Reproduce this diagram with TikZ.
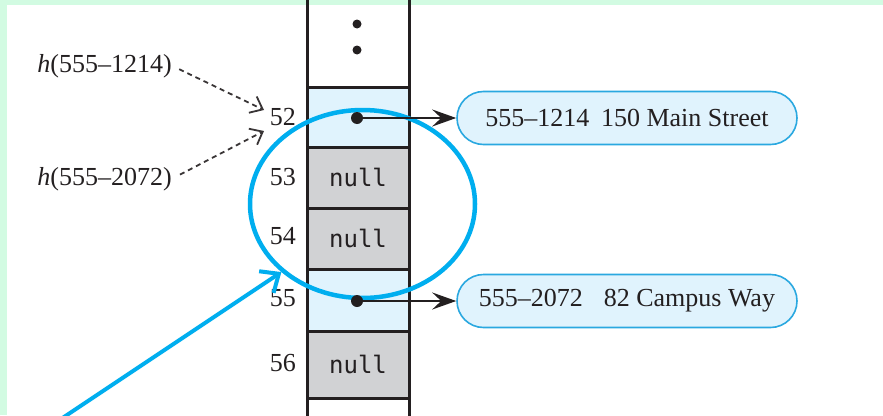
\documentclass[tikz,border=0pt]{standalone}
\usepackage{fontspec}
\setmainfont{Liberation Serif}
\setmonofont{DejaVu Sans Mono}
\usetikzlibrary{arrows.meta,shapes.misc,shapes.geometric}
\definecolor{mint}{HTML}{D2FBE2}
\definecolor{cellblue}{HTML}{E0F3FD}
\definecolor{cellgray}{HTML}{D1D2D4}
\definecolor{recblue}{HTML}{2AA8E0}
\definecolor{hilite}{HTML}{00AEEF}
\definecolor{ink}{HTML}{231F20}
\begin{document}
\begin{tikzpicture}[x=1pt,y=-1pt,
  txt/.style={font=\fontsize{26}{30}\selectfont, inner sep=0pt, text=ink},
  cell/.style={draw=ink, line width=3pt, minimum width=102pt, inner sep=0pt,
    outer sep=0pt, text=ink, font=\ttfamily\fontsize{24}{28}\selectfont},
  rec/.style={rounded rectangle, draw=recblue, line width=1.6pt, fill=cellblue,
    minimum width=340pt, minimum height=53pt, inner sep=0pt, text=ink,
    font=\fontsize{26}{30}\selectfont},
  ptr/.style={draw=ink, line width=2.2pt, -{Stealth[length=24pt,width=17pt,inset=9pt]}},
  hashptr/.style={draw=ink!90, line width=1.8pt, dash pattern=on 5pt off 4pt,
    -{Straight Barb[length=11pt,width=18pt]}},
  ring/.style={ellipse, draw=hilite, line width=4.5pt, minimum width=225pt,
    minimum height=188pt, inner sep=0pt},
  callout/.style={draw=hilite, line width=4pt,
    -{Straight Barb[length=15pt,width=26pt]}},
]
\useasboundingbox (0,0) rectangle (883,415);
% page background with a mint frame on top and left
\fill[mint] (0,0) rectangle (883,415);
\fill[white] (7,5) rectangle (883,415);

% hash table column
\node[cell, fill=cellblue, minimum height=60pt] (c52) at (358,117) {};
\node[cell, fill=cellgray, minimum height=61pt] (c53) at (358,177.5) {null};
\node[cell, fill=cellgray, minimum height=61pt] (c54) at (358,238.5) {null};
\node[cell, fill=cellblue, minimum height=62pt] (c55) at (358,300) {};
\node[cell, fill=cellgray, minimum height=67pt] (c56) at (358,364.5) {null};
\draw[ink, line width=3pt] (c52.north west) -- ++(0,-90);
\draw[ink, line width=3pt] (c52.north east) -- ++(0,-90);
\draw[ink, line width=3pt] (c56.south west) -- ++(0,30);
\draw[ink, line width=3pt] (c56.south east) -- ++(0,30);
\fill[ink] (357,24) circle (4.5pt);
\fill[ink] (357,50) circle (4.5pt);

% index labels
\node[txt, anchor=east] (l52) at (296,117) {52};
\node[txt, anchor=east] (l53) at (296,177.5) {53};
\node[txt, anchor=east] (l54) at (296,236) {54};
\node[txt, anchor=east] (l55) at (296,298) {55};
\node[txt, anchor=east] (l56) at (296,363) {56};

% hash function calls
\node[txt, anchor=base east] (h1) at (172,72) {\textit{h}(555–1214)};
\node[txt, anchor=base east] (h2) at (172,185) {\textit{h}(555–2072)};
\coordinate (t1) at (264,110);
\coordinate (t2) at (264,131);
\draw[hashptr, shorten <=8pt] (h1.east) -- (t1);
\draw[hashptr, shorten <=9pt] (h2.east) -- (t2);

% highlight ring
\node[ring] (ring) at (362.5,204) {};

% records
\node[rec] (r1) at (627,118) {555–1214\hspace{0.45em}150 Main Street};
\node[rec] (r2) at (627,301) {555–2072\hspace{0.8em}82 Campus Way};
\coordinate (p52) at (357,118);
\coordinate (p55) at (357,301);
\fill[ink] (p52) circle (6pt);
\fill[ink] (p55) circle (6pt);
\draw[ptr] (p52) -- (r1.west);
\draw[ptr] (p55) -- (r2.west);

% callout arrow
\coordinate (src) at (52,425);
\draw[callout] (src) -- (ring.220);
\end{tikzpicture}
\end{document}
